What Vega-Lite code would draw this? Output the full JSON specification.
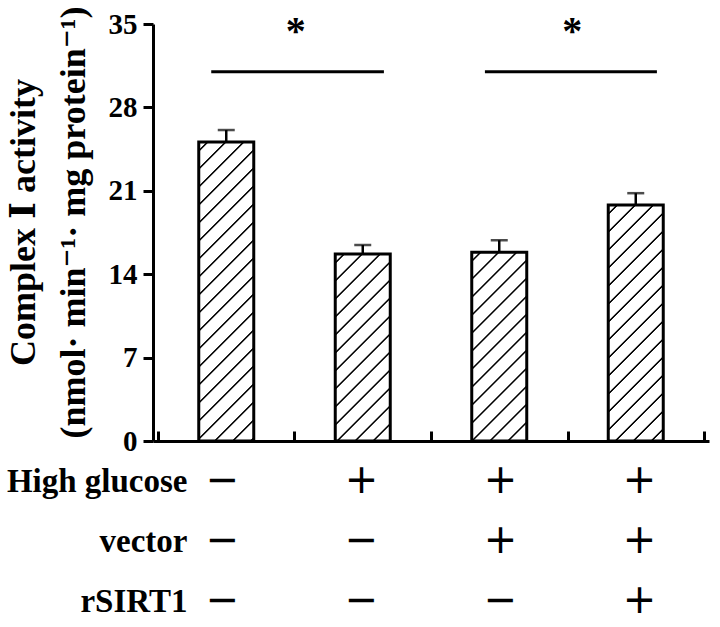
{
  "$schema": "https://vega.github.io/schema/vega-lite/v6.json",
  "padding": {"left": 5, "top": 6, "right": 2, "bottom": 0},
  "background": "white",
  "config": {
    "view": {"stroke": null},
    "font": "Liberation Serif",
    "text": {"color": "black"}
  },
  "datasets": {
    "bars": [
      {"x": 1, "value": 25.1, "upper": 26.1},
      {"x": 3, "value": 15.7, "upper": 16.45},
      {"x": 5, "value": 15.85, "upper": 16.85},
      {"x": 7, "value": 19.8, "upper": 20.8}
    ],
    "sig": [
      {"x1": 0.78, "x2": 3.31, "y": 31, "ax": 2.02, "ay": 34.35, "label": "*"},
      {"x1": 4.79, "x2": 7.31, "y": 31, "ax": 6.07, "ay": 34.35, "label": "*"}
    ],
    "table": [
      {"factor": "High glucose", "x": 1, "sign": "−"},
      {"factor": "High glucose", "x": 3, "sign": "+"},
      {"factor": "High glucose", "x": 5, "sign": "+"},
      {"factor": "High glucose", "x": 7, "sign": "+"},
      {"factor": "vector", "x": 1, "sign": "−"},
      {"factor": "vector", "x": 3, "sign": "−"},
      {"factor": "vector", "x": 5, "sign": "+"},
      {"factor": "vector", "x": 7, "sign": "+"},
      {"factor": "rSIRT1", "x": 1, "sign": "−"},
      {"factor": "rSIRT1", "x": 3, "sign": "−"},
      {"factor": "rSIRT1", "x": 5, "sign": "−"},
      {"factor": "rSIRT1", "x": 7, "sign": "+"}
    ]
  },
  "spacing": 5,
  "vconcat": [
    {
      "width": 556,
      "height": 417,
      "layer": [
        {
          "data": {"name": "bars"},
          "mark": {"type": "rule", "strokeWidth": 2.5, "color": "black"},
          "encoding": {
            "x": {
              "field": "x", "type": "quantitative",
              "scale": {"domain": [0, 8], "nice": false, "zero": false},
              "axis": {
                "values": [0, 1, 2, 3, 4, 5, 6, 7, 8],
                "labels": false, "title": null, "grid": false,
                "tickSize": -10, "tickWidth": 3, "tickColor": "black",
                "domainWidth": 3, "domainColor": "black"
              }
            },
            "y": {
              "field": "value", "type": "quantitative",
              "scale": {"domain": [0, 35], "nice": false},
              "axis": {
                "values": [0, 7, 14, 21, 28, 35], "grid": false,
                "tickSize": 10, "tickWidth": 3, "tickColor": "black",
                "domainWidth": 3, "domainColor": "black",
                "labelFont": "Liberation Serif", "labelFontSize": 29,
                "labelFontWeight": "bold", "labelColor": "black", "labelPadding": 6,
                "title": ["Complex Ⅰ activity", "(nmol· min⁻¹· mg protein⁻¹)"],
                "titleFont": "Liberation Serif, DejaVu Serif", "titleFontSize": 36,
                "titleFontWeight": "bold", "titleColor": "black",
                "titleLineHeight": 50, "titlePadding": 16, "titleY": 198
              }
            },
            "y2": {"field": "upper"}
          }
        },
        {
          "data": {"name": "bars"},
          "mark": {"type": "tick", "orient": "horizontal", "size": 17, "thickness": 2.5, "color": "black"},
          "encoding": {
            "x": {"field": "x", "type": "quantitative"},
            "y": {"field": "upper", "type": "quantitative"}
          }
        },
        {
          "data": {"name": "bars"},
          "mark": {"type": "bar", "orient": "vertical", "size": 55, "stroke": "black", "strokeWidth": 3},
          "encoding": {
            "x": {"field": "x", "type": "quantitative"},
            "y": {"field": "value", "type": "quantitative"},
            "fill": {
              "condition": [
                {"test": "datum.x === 1", "value": {"gradient": "linear", "x1": 0, "y1": 0, "x2": 0.2142, "y2": 1.1646, "stops": [
                  {"offset":0.0205,"color":"white"},{"offset":0.0235,"color":"black"},{"offset":0.0265,"color":"black"},{"offset":0.0295,"color":"white"},
                  {"offset":0.0705,"color":"white"},{"offset":0.0735,"color":"black"},{"offset":0.0765,"color":"black"},{"offset":0.0795,"color":"white"},
                  {"offset":0.1205,"color":"white"},{"offset":0.1235,"color":"black"},{"offset":0.1265,"color":"black"},{"offset":0.1295,"color":"white"},
                  {"offset":0.1705,"color":"white"},{"offset":0.1735,"color":"black"},{"offset":0.1765,"color":"black"},{"offset":0.1795,"color":"white"},
                  {"offset":0.2205,"color":"white"},{"offset":0.2235,"color":"black"},{"offset":0.2265,"color":"black"},{"offset":0.2295,"color":"white"},
                  {"offset":0.2705,"color":"white"},{"offset":0.2735,"color":"black"},{"offset":0.2765,"color":"black"},{"offset":0.2795,"color":"white"},
                  {"offset":0.3205,"color":"white"},{"offset":0.3235,"color":"black"},{"offset":0.3265,"color":"black"},{"offset":0.3295,"color":"white"},
                  {"offset":0.3705,"color":"white"},{"offset":0.3735,"color":"black"},{"offset":0.3765,"color":"black"},{"offset":0.3795,"color":"white"},
                  {"offset":0.4205,"color":"white"},{"offset":0.4235,"color":"black"},{"offset":0.4265,"color":"black"},{"offset":0.4295,"color":"white"},
                  {"offset":0.4705,"color":"white"},{"offset":0.4735,"color":"black"},{"offset":0.4765,"color":"black"},{"offset":0.4795,"color":"white"},
                  {"offset":0.5205,"color":"white"},{"offset":0.5235,"color":"black"},{"offset":0.5265,"color":"black"},{"offset":0.5295,"color":"white"},
                  {"offset":0.5705,"color":"white"},{"offset":0.5735,"color":"black"},{"offset":0.5765,"color":"black"},{"offset":0.5795,"color":"white"},
                  {"offset":0.6205,"color":"white"},{"offset":0.6235,"color":"black"},{"offset":0.6265,"color":"black"},{"offset":0.6295,"color":"white"},
                  {"offset":0.6705,"color":"white"},{"offset":0.6735,"color":"black"},{"offset":0.6765,"color":"black"},{"offset":0.6795,"color":"white"},
                  {"offset":0.7205,"color":"white"},{"offset":0.7235,"color":"black"},{"offset":0.7265,"color":"black"},{"offset":0.7295,"color":"white"},
                  {"offset":0.7705,"color":"white"},{"offset":0.7735,"color":"black"},{"offset":0.7765,"color":"black"},{"offset":0.7795,"color":"white"},
                  {"offset":0.8205,"color":"white"},{"offset":0.8235,"color":"black"},{"offset":0.8265,"color":"black"},{"offset":0.8295,"color":"white"},
                  {"offset":0.8705,"color":"white"},{"offset":0.8735,"color":"black"},{"offset":0.8765,"color":"black"},{"offset":0.8795,"color":"white"},
                  {"offset":0.9205,"color":"white"},{"offset":0.9235,"color":"black"},{"offset":0.9265,"color":"black"},{"offset":0.9295,"color":"white"},
                  {"offset":0.9705,"color":"white"},{"offset":0.9735,"color":"black"},{"offset":0.9765,"color":"black"},{"offset":0.9795,"color":"white"}
                ]}},
                {"test": "datum.x === 3", "value": {"gradient": "linear", "x1": 0, "y1": 0, "x2": 0.5206, "y2": 1.7711, "stops": [
                  {"offset":0.0205,"color":"white"},{"offset":0.0235,"color":"black"},{"offset":0.0265,"color":"black"},{"offset":0.0295,"color":"white"},
                  {"offset":0.0705,"color":"white"},{"offset":0.0735,"color":"black"},{"offset":0.0765,"color":"black"},{"offset":0.0795,"color":"white"},
                  {"offset":0.1205,"color":"white"},{"offset":0.1235,"color":"black"},{"offset":0.1265,"color":"black"},{"offset":0.1295,"color":"white"},
                  {"offset":0.1705,"color":"white"},{"offset":0.1735,"color":"black"},{"offset":0.1765,"color":"black"},{"offset":0.1795,"color":"white"},
                  {"offset":0.2205,"color":"white"},{"offset":0.2235,"color":"black"},{"offset":0.2265,"color":"black"},{"offset":0.2295,"color":"white"},
                  {"offset":0.2705,"color":"white"},{"offset":0.2735,"color":"black"},{"offset":0.2765,"color":"black"},{"offset":0.2795,"color":"white"},
                  {"offset":0.3205,"color":"white"},{"offset":0.3235,"color":"black"},{"offset":0.3265,"color":"black"},{"offset":0.3295,"color":"white"},
                  {"offset":0.3705,"color":"white"},{"offset":0.3735,"color":"black"},{"offset":0.3765,"color":"black"},{"offset":0.3795,"color":"white"},
                  {"offset":0.4205,"color":"white"},{"offset":0.4235,"color":"black"},{"offset":0.4265,"color":"black"},{"offset":0.4295,"color":"white"},
                  {"offset":0.4705,"color":"white"},{"offset":0.4735,"color":"black"},{"offset":0.4765,"color":"black"},{"offset":0.4795,"color":"white"},
                  {"offset":0.5205,"color":"white"},{"offset":0.5235,"color":"black"},{"offset":0.5265,"color":"black"},{"offset":0.5295,"color":"white"},
                  {"offset":0.5705,"color":"white"},{"offset":0.5735,"color":"black"},{"offset":0.5765,"color":"black"},{"offset":0.5795,"color":"white"},
                  {"offset":0.6205,"color":"white"},{"offset":0.6235,"color":"black"},{"offset":0.6265,"color":"black"},{"offset":0.6295,"color":"white"},
                  {"offset":0.6705,"color":"white"},{"offset":0.6735,"color":"black"},{"offset":0.6765,"color":"black"},{"offset":0.6795,"color":"white"},
                  {"offset":0.7205,"color":"white"},{"offset":0.7235,"color":"black"},{"offset":0.7265,"color":"black"},{"offset":0.7295,"color":"white"},
                  {"offset":0.7705,"color":"white"},{"offset":0.7735,"color":"black"},{"offset":0.7765,"color":"black"},{"offset":0.7795,"color":"white"},
                  {"offset":0.8205,"color":"white"},{"offset":0.8235,"color":"black"},{"offset":0.8265,"color":"black"},{"offset":0.8295,"color":"white"},
                  {"offset":0.8705,"color":"white"},{"offset":0.8735,"color":"black"},{"offset":0.8765,"color":"black"},{"offset":0.8795,"color":"white"},
                  {"offset":0.9205,"color":"white"},{"offset":0.9235,"color":"black"},{"offset":0.9265,"color":"black"},{"offset":0.9295,"color":"white"},
                  {"offset":0.9705,"color":"white"},{"offset":0.9735,"color":"black"},{"offset":0.9765,"color":"black"},{"offset":0.9795,"color":"white"}
                ]}},
                {"test": "datum.x === 5", "value": {"gradient": "linear", "x1": 0, "y1": 0, "x2": 0.5120, "y2": 1.7576, "stops": [
                  {"offset":0.0205,"color":"white"},{"offset":0.0235,"color":"black"},{"offset":0.0265,"color":"black"},{"offset":0.0295,"color":"white"},
                  {"offset":0.0705,"color":"white"},{"offset":0.0735,"color":"black"},{"offset":0.0765,"color":"black"},{"offset":0.0795,"color":"white"},
                  {"offset":0.1205,"color":"white"},{"offset":0.1235,"color":"black"},{"offset":0.1265,"color":"black"},{"offset":0.1295,"color":"white"},
                  {"offset":0.1705,"color":"white"},{"offset":0.1735,"color":"black"},{"offset":0.1765,"color":"black"},{"offset":0.1795,"color":"white"},
                  {"offset":0.2205,"color":"white"},{"offset":0.2235,"color":"black"},{"offset":0.2265,"color":"black"},{"offset":0.2295,"color":"white"},
                  {"offset":0.2705,"color":"white"},{"offset":0.2735,"color":"black"},{"offset":0.2765,"color":"black"},{"offset":0.2795,"color":"white"},
                  {"offset":0.3205,"color":"white"},{"offset":0.3235,"color":"black"},{"offset":0.3265,"color":"black"},{"offset":0.3295,"color":"white"},
                  {"offset":0.3705,"color":"white"},{"offset":0.3735,"color":"black"},{"offset":0.3765,"color":"black"},{"offset":0.3795,"color":"white"},
                  {"offset":0.4205,"color":"white"},{"offset":0.4235,"color":"black"},{"offset":0.4265,"color":"black"},{"offset":0.4295,"color":"white"},
                  {"offset":0.4705,"color":"white"},{"offset":0.4735,"color":"black"},{"offset":0.4765,"color":"black"},{"offset":0.4795,"color":"white"},
                  {"offset":0.5205,"color":"white"},{"offset":0.5235,"color":"black"},{"offset":0.5265,"color":"black"},{"offset":0.5295,"color":"white"},
                  {"offset":0.5705,"color":"white"},{"offset":0.5735,"color":"black"},{"offset":0.5765,"color":"black"},{"offset":0.5795,"color":"white"},
                  {"offset":0.6205,"color":"white"},{"offset":0.6235,"color":"black"},{"offset":0.6265,"color":"black"},{"offset":0.6295,"color":"white"},
                  {"offset":0.6705,"color":"white"},{"offset":0.6735,"color":"black"},{"offset":0.6765,"color":"black"},{"offset":0.6795,"color":"white"},
                  {"offset":0.7205,"color":"white"},{"offset":0.7235,"color":"black"},{"offset":0.7265,"color":"black"},{"offset":0.7295,"color":"white"},
                  {"offset":0.7705,"color":"white"},{"offset":0.7735,"color":"black"},{"offset":0.7765,"color":"black"},{"offset":0.7795,"color":"white"},
                  {"offset":0.8205,"color":"white"},{"offset":0.8235,"color":"black"},{"offset":0.8265,"color":"black"},{"offset":0.8295,"color":"white"},
                  {"offset":0.8705,"color":"white"},{"offset":0.8735,"color":"black"},{"offset":0.8765,"color":"black"},{"offset":0.8795,"color":"white"},
                  {"offset":0.9205,"color":"white"},{"offset":0.9235,"color":"black"},{"offset":0.9265,"color":"black"},{"offset":0.9295,"color":"white"},
                  {"offset":0.9705,"color":"white"},{"offset":0.9735,"color":"black"},{"offset":0.9765,"color":"black"},{"offset":0.9795,"color":"white"}
                ]}}
              ],
              "value": {"gradient": "linear", "x1": 0, "y1": 0, "x2": 0.3375, "y2": 1.4474, "stops": [
                  {"offset":0.0205,"color":"white"},{"offset":0.0235,"color":"black"},{"offset":0.0265,"color":"black"},{"offset":0.0295,"color":"white"},
                  {"offset":0.0705,"color":"white"},{"offset":0.0735,"color":"black"},{"offset":0.0765,"color":"black"},{"offset":0.0795,"color":"white"},
                  {"offset":0.1205,"color":"white"},{"offset":0.1235,"color":"black"},{"offset":0.1265,"color":"black"},{"offset":0.1295,"color":"white"},
                  {"offset":0.1705,"color":"white"},{"offset":0.1735,"color":"black"},{"offset":0.1765,"color":"black"},{"offset":0.1795,"color":"white"},
                  {"offset":0.2205,"color":"white"},{"offset":0.2235,"color":"black"},{"offset":0.2265,"color":"black"},{"offset":0.2295,"color":"white"},
                  {"offset":0.2705,"color":"white"},{"offset":0.2735,"color":"black"},{"offset":0.2765,"color":"black"},{"offset":0.2795,"color":"white"},
                  {"offset":0.3205,"color":"white"},{"offset":0.3235,"color":"black"},{"offset":0.3265,"color":"black"},{"offset":0.3295,"color":"white"},
                  {"offset":0.3705,"color":"white"},{"offset":0.3735,"color":"black"},{"offset":0.3765,"color":"black"},{"offset":0.3795,"color":"white"},
                  {"offset":0.4205,"color":"white"},{"offset":0.4235,"color":"black"},{"offset":0.4265,"color":"black"},{"offset":0.4295,"color":"white"},
                  {"offset":0.4705,"color":"white"},{"offset":0.4735,"color":"black"},{"offset":0.4765,"color":"black"},{"offset":0.4795,"color":"white"},
                  {"offset":0.5205,"color":"white"},{"offset":0.5235,"color":"black"},{"offset":0.5265,"color":"black"},{"offset":0.5295,"color":"white"},
                  {"offset":0.5705,"color":"white"},{"offset":0.5735,"color":"black"},{"offset":0.5765,"color":"black"},{"offset":0.5795,"color":"white"},
                  {"offset":0.6205,"color":"white"},{"offset":0.6235,"color":"black"},{"offset":0.6265,"color":"black"},{"offset":0.6295,"color":"white"},
                  {"offset":0.6705,"color":"white"},{"offset":0.6735,"color":"black"},{"offset":0.6765,"color":"black"},{"offset":0.6795,"color":"white"},
                  {"offset":0.7205,"color":"white"},{"offset":0.7235,"color":"black"},{"offset":0.7265,"color":"black"},{"offset":0.7295,"color":"white"},
                  {"offset":0.7705,"color":"white"},{"offset":0.7735,"color":"black"},{"offset":0.7765,"color":"black"},{"offset":0.7795,"color":"white"},
                  {"offset":0.8205,"color":"white"},{"offset":0.8235,"color":"black"},{"offset":0.8265,"color":"black"},{"offset":0.8295,"color":"white"},
                  {"offset":0.8705,"color":"white"},{"offset":0.8735,"color":"black"},{"offset":0.8765,"color":"black"},{"offset":0.8795,"color":"white"},
                  {"offset":0.9205,"color":"white"},{"offset":0.9235,"color":"black"},{"offset":0.9265,"color":"black"},{"offset":0.9295,"color":"white"},
                  {"offset":0.9705,"color":"white"},{"offset":0.9735,"color":"black"},{"offset":0.9765,"color":"black"},{"offset":0.9795,"color":"white"}
              ]}
            }
          }
        },
        {
          "data": {"name": "sig"},
          "mark": {"type": "rule", "strokeWidth": 3, "color": "black"},
          "encoding": {
            "x": {"field": "x1", "type": "quantitative"},
            "x2": {"field": "x2"},
            "y": {"field": "y", "type": "quantitative"}
          }
        },
        {
          "data": {"name": "sig"},
          "mark": {"type": "text", "font": "Liberation Serif", "fontSize": 40, "fontWeight": "bold", "baseline": "middle", "align": "center", "color": "black"},
          "encoding": {
            "x": {"field": "ax", "type": "quantitative"},
            "y": {"field": "ay", "type": "quantitative"},
            "text": {"field": "label"}
          }
        }
      ]
    },
    {
      "width": 556,
      "height": 120,
      "data": {"name": "table"},
      "mark": {"type": "text", "font": "DejaVu Sans", "fontSize": 40, "fontWeight": "normal", "baseline": "middle", "align": "center", "color": "black"},
      "encoding": {
        "x": {"field": "x", "type": "quantitative", "scale": {"domain": [0, 8], "nice": false, "zero": false}, "axis": null},
        "y": {
          "field": "factor", "type": "nominal",
          "sort": ["High glucose", "vector", "rSIRT1"],
          "scale": {"type": "point", "padding": 0},
          "axis": {
            "domain": false, "ticks": false, "tickSize": 0, "grid": false, "title": null,
            "labelPadding": -34, "labelAlign": "right", "labelLimit": 0,
            "labelFont": "Liberation Serif", "labelFontSize": 33, "labelFontWeight": "bold", "labelColor": "black"
          }
        },
        "text": {"field": "sign"}
      }
    }
  ]
}
